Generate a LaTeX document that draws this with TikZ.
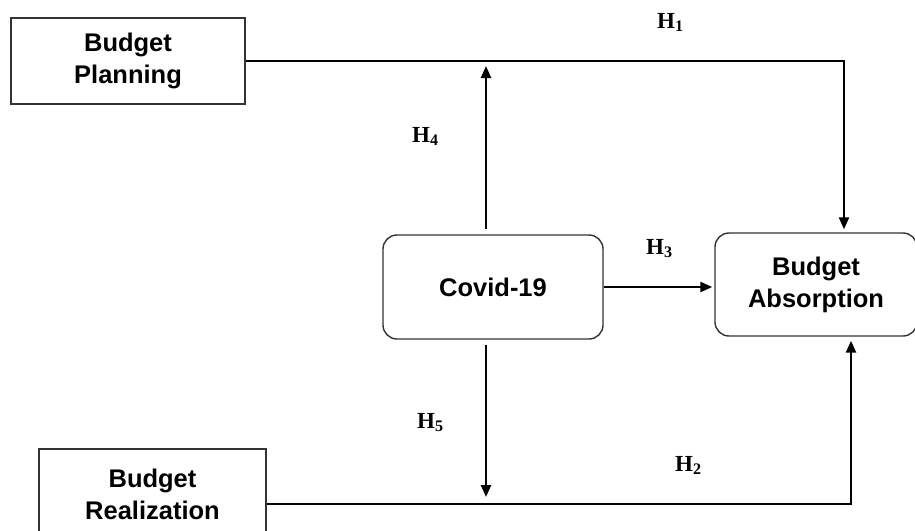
\documentclass[tikz,border=0pt]{standalone}
\usepackage{fontspec}
\setmainfont{Liberation Sans}
\newfontfamily\hfont{Liberation Serif}
\usetikzlibrary{arrows.meta}
\begin{document}
\begin{tikzpicture}[x=1pt,y=-1pt,
  box/.style={draw=black!80, line width=1.4pt, font=\bfseries\fontsize{25.5}{32}\selectfont, align=center, inner sep=0pt},
  rbox/.style={box, rounded corners=14pt},
  conn/.style={line width=2.4pt},
  arr/.style={conn,-{Triangle[length=12pt,width=10pt]}},
  hlab/.style={font=\hfont\bfseries\fontsize{23}{23}\selectfont, anchor=base west, inner sep=0pt}]
\useasboundingbox (0,0) rectangle (915,530);
\node[box, minimum width=234pt, minimum height=86pt] (plan) at (128,61) {Budget\\Planning};
\node[box, minimum width=227pt, minimum height=90pt] (real) at (152.5,494) {Budget\\Realization};
\node[rbox, minimum width=220pt, minimum height=104pt] (covid) at (493,287) {Covid-19};
\node[rbox, minimum width=202pt, minimum height=103pt] (abs) at (816,284.5) {Budget\\Absorption};
\coordinate (pc) at (844,61);
\coordinate (ut) at (486,61);
\coordinate (rc) at (851,504);
\draw[arr, shorten >=3pt] (plan.east) -- (pc) -- (pc |- abs.north);
\draw[arr, shorten >=4pt] (real.east |- rc) -- (rc) -- (rc |- abs.south);
\draw[arr, shorten <=5pt, shorten >=5pt] (covid.north -| ut) -- (ut);
\draw[arr, shorten <=5pt, shorten >=7pt] (covid.south -| ut) -- (ut |- rc);
\draw[arr, shorten >=2pt] (covid.east) -- (covid.east -| abs.west);
\node[hlab] (h1) at (657,28) {H\textsubscript{1}};
\node[hlab] (h4) at (412,142) {H\textsubscript{4}};
\node[hlab] (h3) at (646,254) {H\textsubscript{3}};
\node[hlab] (h5) at (417,428) {H\textsubscript{5}};
\node[hlab] (h2) at (675,471) {H\textsubscript{2}};
\end{tikzpicture}
\end{document}
